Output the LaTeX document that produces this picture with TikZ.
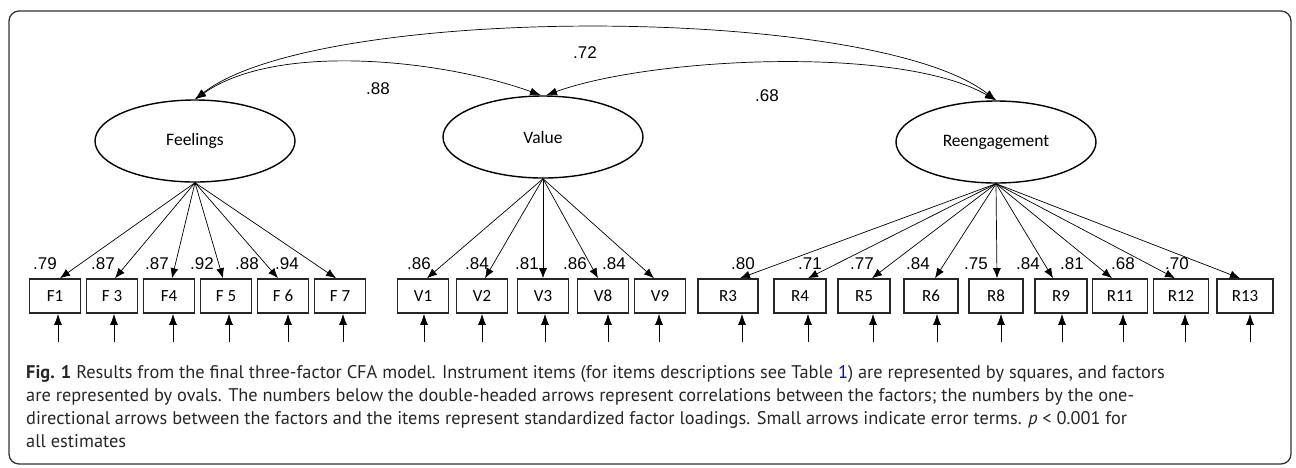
\documentclass[tikz,border=0pt]{standalone}
\usepackage{fontspec}
\setmainfont{PT Sans}
\newfontfamily\labelfont{Carlito}
\newfontfamily\numfont{Liberation Sans}
\usetikzlibrary{shapes.geometric,arrows.meta}

\tikzset{
  factor/.style={draw, ellipse, line width=1.4pt, minimum width=200pt, minimum height=82pt, inner sep=0pt, font=\labelfont\fontsize{17.5}{20}\selectfont},
  item/.style={draw=black!85, line width=1.6pt, minimum height=34pt, inner sep=0pt, font=\labelfont\fontsize{17}{19}\selectfont},
  load/.style={-{Latex[length=10pt,width=8pt]}, line width=0.7pt},
  corr/.style={{Latex[length=11pt,width=8pt]}-{Latex[length=11pt,width=8pt]}, line width=0.7pt},
  err/.style={-{Latex[length=11pt,width=8pt]}, line width=0.8pt},
  coef/.style={inner sep=0pt, font=\numfont\fontsize{17}{19}\selectfont},
  capline/.style={anchor=base west, inner sep=0pt, text=black!85, font=\fontsize{18.35}{23}\selectfont}
}

\begin{document}
\begin{tikzpicture}[x=1pt,y=-1pt]
    \useasboundingbox (0,0) rectangle (1296,467);
    \draw[rounded corners=10pt, line width=1.3pt, black!80] (9,11) rectangle (1291,464);

    \node[factor] at (195,141) (Feel) {Feelings};
    \node[factor] at (543,137) (Val) {Value};
    \node[factor] at (996,142) (Reen) {Reengagement};

    \draw[corr] (Feel.north) to[out=38,in=142,looseness=0.5] (Reen.north);
    \draw[corr] (Feel.north) to[out=35,in=160,looseness=0.75] ([xshift=-2pt]Val.north);
    \draw[corr] ([xshift=3pt]Val.north) to[out=20,in=150,looseness=0.63] (Reen.north);

    \node[coef] at (585,53) (c72) {.72};
    \node[coef] at (378,89) (c88) {.88};
    \node[coef] at (767,96) (c68) {.68};

    \foreach \name/\txt/\cx/\w/\ld/\ed/\lx/\val/\fac in {
      F1/F1/55/51/5/3/45/.79/Feel,
      F3/F 3/112/51/3/2/103/.87/Feel,
      F4/F4/169/51/3/4/157/.87/Feel,
      F5/F 5/226/51/-3/3/202/.92/Feel,
      F6/F 6/283/51/-5/5/247/.88/Feel,
      F7/F 7/340/51/-4/3/287/.94/Feel,
      V1/V1/423/51/4/1/419/.86/Val,
      V2/V2/482/51/3/0/477/.84/Val,
      V3/V3/543/51/0/2/527/.81/Val,
      V8/V8/603/51/-5/5/575/.86/Val,
      V9/V9/660/51/-6/-1/614/.84/Val,
      R3/R3/728/60/12/14/743/.80/Reen,
      R4/R4/800/52/8/8/810/.71/Reen,
      R5/R5/864/52/8/9/862/.77/Reen,
      R6/R6/931/54/4/6/918/.84/Reen,
      R8/R8/996/54/1/5/976/.75/Reen,
      R9/R9/1061/52/-8/1/1028/.84/Reen,
      R11/R11/1120/55/-8/3/1072/.81/Reen,
      R12/R12/1181/55/-6/4/1123/.68/Reen,
      R13/R13/1245/56/-5/5/1177/.70/Reen} {
      \node[item, minimum width=\w pt] at (\cx,296) (\name) {\txt};
      \node[coef] at (\lx,264) (l\name) {\val};
      \coordinate (e\name) at (\cx+\ed,342);
      \draw[load] (\fac.south) -- ([xshift=\ld pt]\name.north);
      \draw[err] (e\name) -- (\name.south -| e\name);
    }

    \node[capline] at (26,378) (cap1) {\textbf{Fig. 1} Results from the final three-factor CFA model. Instrument items (for items descriptions see Table \textcolor{blue}{1}) are represented by squares, and factors};
    \node[capline] at (26,401) (cap2) {are represented by ovals. The numbers below the double-headed arrows represent correlations between the factors; the numbers by the one-};
    \node[capline] at (26,424) (cap3) {directional arrows between the factors and the items represent standardized factor loadings. Small arrows indicate error terms. \textit{p} < 0.001 for};
    \node[capline] at (26,447) (cap4) {all estimates};
\end{tikzpicture}
\end{document}
